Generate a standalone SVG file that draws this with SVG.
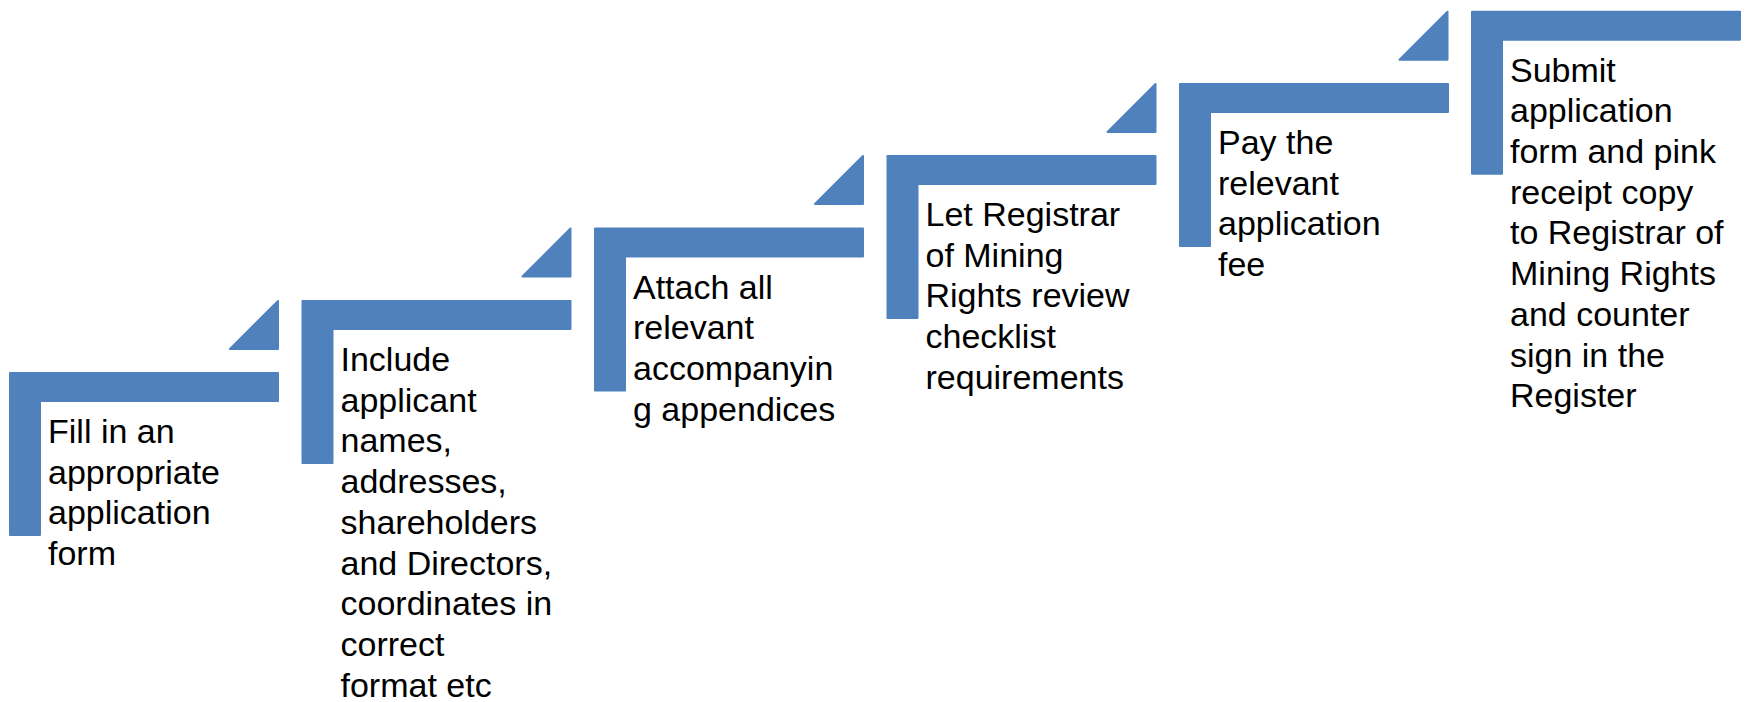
<svg xmlns="http://www.w3.org/2000/svg" xmlns:xlink="http://www.w3.org/1999/xlink" width="1747" height="702" viewBox="0 0 1747 702">
<style>
.shape{fill:#4F81BD;stroke:#4F81BD;stroke-width:2;stroke-linejoin:round}
.t{font-family:"Liberation Sans",Arial,sans-serif;font-size:34px;fill:#000}
</style>
<defs>
<path id="L" d="M1,1 H269 V29 H31 V163 H1 Z"/>
<path id="tri" d="M-71.5,49 L-23.5,1 L-23.5,49 Z"/>
</defs>
<rect width="1747" height="702" fill="#fff"/>
<g id="connectors">
<use xlink:href="#tri" class="shape" transform="translate(301.5,300)"/>
<use xlink:href="#tri" class="shape" transform="translate(594,227.5)"/>
<use xlink:href="#tri" class="shape" transform="translate(886.5,155)"/>
<use xlink:href="#tri" class="shape" transform="translate(1179,83)"/>
<use xlink:href="#tri" class="shape" transform="translate(1471,10.7)"/>
</g>
<g id="step1" transform="translate(9,372)">
<use xlink:href="#L" class="shape"/>
<text class="t" x="39" y="71">Fill in an<tspan x="39" dy="40.7">appropriate</tspan><tspan x="39" dy="40.7">application</tspan><tspan x="39" dy="40.7">form</tspan></text>
</g>
<g id="step2" transform="translate(301.5,300)">
<use xlink:href="#L" class="shape"/>
<text class="t" x="39" y="71">Include<tspan x="39" dy="40.7">applicant</tspan><tspan x="39" dy="40.7">names,</tspan><tspan x="39" dy="40.7">addresses,</tspan><tspan x="39" dy="40.7">shareholders</tspan><tspan x="39" dy="40.7">and Directors,</tspan><tspan x="39" dy="40.7">coordinates in</tspan><tspan x="39" dy="40.7">correct</tspan><tspan x="39" dy="40.7">format etc</tspan></text>
</g>
<g id="step3" transform="translate(594,227.5)">
<use xlink:href="#L" class="shape"/>
<text class="t" x="39" y="71">Attach all<tspan x="39" dy="40.7">relevant</tspan><tspan x="39" dy="40.7">accompanyin</tspan><tspan x="39" dy="40.7">g appendices</tspan></text>
</g>
<g id="step4" transform="translate(886.5,155)">
<use xlink:href="#L" class="shape"/>
<text class="t" x="39" y="71">Let Registrar<tspan x="39" dy="40.7">of Mining</tspan><tspan x="39" dy="40.7">Rights review</tspan><tspan x="39" dy="40.7">checklist</tspan><tspan x="39" dy="40.7">requirements</tspan></text>
</g>
<g id="step5" transform="translate(1179,83)">
<use xlink:href="#L" class="shape"/>
<text class="t" x="39" y="71">Pay the<tspan x="39" dy="40.7">relevant</tspan><tspan x="39" dy="40.7">application</tspan><tspan x="39" dy="40.7">fee</tspan></text>
</g>
<g id="step6" transform="translate(1471,10.7)">
<use xlink:href="#L" class="shape"/>
<text class="t" x="39" y="71">Submit<tspan x="39" dy="40.7">application</tspan><tspan x="39" dy="40.7">form and pink</tspan><tspan x="39" dy="40.7">receipt copy</tspan><tspan x="39" dy="40.7">to Registrar of</tspan><tspan x="39" dy="40.7">Mining Rights</tspan><tspan x="39" dy="40.7">and counter</tspan><tspan x="39" dy="40.7">sign in the</tspan><tspan x="39" dy="40.7">Register</tspan></text>
</g>
</svg>
